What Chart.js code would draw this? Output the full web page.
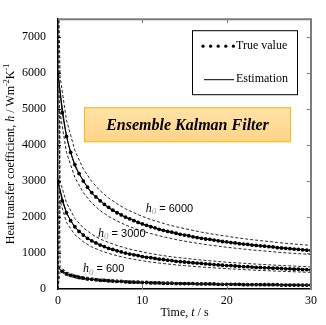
<!DOCTYPE html>
<html>
<head>
<meta charset="utf-8">
<script src="https://cdn.jsdelivr.net/npm/chart.js@4.4.1/dist/chart.umd.min.js"></script>
<style>
  html, body { margin: 0; padding: 0; background: #fff; }
  #wrap { width: 326px; height: 325px; }
</style>
</head>
<body>
<div id="wrap"><canvas id="c" width="326" height="325"></canvas></div>
<script>
// Sample times (s)
const trueTimes = [0, 0.5, 1, 1.5, 2, 2.5, 3, 3.5, 4, 4.5, 5, 5.5, 6, 6.5, 7, 7.5, 8, 8.5, 9, 9.5,
  10, 10.5, 11, 11.5, 12, 12.5, 13, 13.5, 14, 14.5, 15, 15.5, 16, 16.5, 17, 17.5, 18, 18.5, 19, 19.5,
  20, 20.5, 21, 21.5, 22, 22.5, 23, 23.5, 24, 24.5, 25, 25.5, 26, 26.5, 27, 27.5, 28, 28.5, 29, 29.5, 30];
const estTimes = [0, 1, 2, 3, 4, 5, 6, 7, 8, 9, 10, 11, 12, 13, 14, 15, 16, 17, 18, 19, 20,
  21, 22, 23, 24, 25, 26, 27, 28, 29, 30];
const boundTimes = [0, 0.25, 1, 2, 3, 4, 5, 6, 7, 8, 9, 10, 11, 12, 13, 14, 15, 16, 17, 18, 19, 20,
  21, 22, 23, 24, 25, 26, 27, 28, 29, 30];

// True heat transfer coefficient (W/m2K)
const true6000 = [6000, 4900, 4240, 3800, 3460, 3210, 3000, 2830, 2680, 2560, 2450, 2350, 2270, 2190, 2120, 2060, 2000, 1950, 1900, 1850,
  1810, 1770, 1730, 1700, 1660, 1630, 1600, 1580, 1550, 1520, 1500, 1480, 1450, 1430, 1410, 1390, 1380, 1360, 1340, 1320,
  1310, 1290, 1280, 1260, 1250, 1240, 1220, 1210, 1200, 1190, 1180, 1170, 1150, 1140, 1130, 1120, 1110, 1100, 1090, 1080, 1070];
const true3000 = [3000, 2450, 2120, 1900, 1730, 1600, 1500, 1410, 1340, 1280, 1220, 1180, 1130, 1100, 1060, 1030, 1000, 970, 950, 930,
  900, 880, 870, 850, 830, 820, 800, 790, 770, 760, 750, 740, 730, 720, 710, 700, 690, 680, 670, 660,
  650, 650, 640, 630, 620, 620, 610, 600, 600, 590, 590, 580, 580, 570, 560, 560, 550, 550, 540, 540, 530];
const true600 = [600, 490, 420, 380, 350, 320, 300, 280, 270, 260, 240, 240, 230, 220, 210, 210, 200, 190, 190, 190,
  180, 180, 170, 170, 170, 160, 160, 160, 150, 150, 150, 150, 150, 140, 140, 140, 140, 140, 130, 130,
  130, 130, 130, 130, 120, 120, 120, 120, 120, 120, 120, 120, 120, 110, 110, 110, 110, 110, 110, 110, 110];

// Ensemble mean estimates
const est6000 = [5950, 4280, 3430, 3020, 2660, 2470, 2250, 2130, 1990, 1910, 1800, 1740, 1650, 1610, 1540, 1510, 1450, 1420, 1370, 1350,
  1300, 1285, 1245, 1230, 1195, 1180, 1150, 1138, 1110, 1098, 1065];
const est3000 = [2980, 2140, 1720, 1510, 1330, 1230, 1120, 1070, 990, 960, 900, 875, 820, 805, 770, 755, 720, 712, 685, 675,
  650, 645, 622, 618, 598, 592, 578, 572, 555, 552, 532];
const est600 = [590, 425, 345, 305, 265, 245, 225, 215, 200, 192, 182, 175, 166, 160, 153, 148, 144, 140, 137, 134,
  131, 128, 125, 123, 121, 119, 117, 115, 113, 111, 110];

// Ensemble spread (upper / lower envelopes)
const upper6000 = [9000, 5900, 4700, 3850, 3340, 2990, 2730, 2530, 2370, 2230, 2120, 2020, 1930, 1860, 1790, 1730, 1680, 1630, 1580, 1540, 1500,
  1470, 1430, 1400, 1370, 1345, 1320, 1295, 1270, 1250, 1230, 1210];
const lower6000 = [0, 4900, 3800, 3100, 2680, 2390, 2180, 2020, 1890, 1780, 1690, 1610, 1540, 1480, 1425, 1375, 1330, 1290, 1255, 1220, 1190,
  1160, 1135, 1110, 1085, 1065, 1045, 1025, 1005, 990, 975, 960];
const upper3000 = [9000, 3000, 2400, 1960, 1700, 1520, 1390, 1290, 1210, 1140, 1080, 1030, 985, 945, 910, 880, 855, 830, 805, 785, 765,
  745, 730, 715, 700, 685, 672, 660, 648, 637, 626, 615];
const lower3000 = [0, 2450, 1850, 1510, 1310, 1170, 1070, 990, 925, 870, 825, 785, 750, 720, 695, 670, 650, 630, 610, 595, 580,
  565, 552, 540, 528, 517, 507, 497, 488, 479, 470, 462];
const upper600 = [9000, 620, 470, 390, 340, 305, 280, 260, 243, 230, 218, 208, 199, 191, 184, 178, 172, 167, 162, 158, 154,
  150, 147, 144, 141, 138, 135, 133, 131, 129, 127, 125];
const lower600 = [0, 500, 380, 310, 265, 237, 216, 200, 187, 176, 167, 159, 152, 146, 141, 136, 132, 128, 124, 121, 118,
  115, 112, 110, 108, 106, 104, 102, 100, 98, 96, 95];

// Curve labels: [h0 value text, anchor time, anchor h]
const curveLabels = [
  ['6000', 10.4, 2230],
  ['3000', 4.75, 1540],
  ['600', 2.95, 550]
];

const yTicks = [0, 1000, 2000, 3000, 4000, 5000, 6000, 7000];
const xTicks = [0, 10, 20, 30];

const SERIF = '"Liberation Serif", "Times New Roman", serif';
const SANS = '"Liberation Sans", Arial, sans-serif';

const pts = (xs, ys) => xs.map((x, i) => ({ x: x, y: ys[i] }));

function boundSet(xs, ys) {
  return { data: pts(xs, ys), borderColor: '#262626', borderWidth: 1, borderDash: [3, 2],
    pointRadius: 0, fill: false, tension: 0 };
}
function estSet(xs, ys) {
  return { data: pts(xs, ys), borderColor: '#000', borderWidth: 1, pointRadius: 0, fill: false, tension: 0.3 };
}
function trueSet(xs, ys) {
  return { data: pts(xs, ys), borderColor: '#000', borderWidth: 1, pointRadius: 1.9,
    pointBackgroundColor: '#000', pointBorderWidth: 0, fill: false, tension: 0 };
}

// Text helper: draw a run of styled pieces starting at x
function drawRuns(ctx, runs, x, y) {
  let cx = x;
  runs.forEach(r => {
    ctx.font = r.font;
    ctx.fillStyle = r.color || '#000';
    ctx.fillText(r.text, cx, y + (r.dy || 0));
    cx += ctx.measureText(r.text).width;
  });
  return cx - x;
}
function runsWidth(ctx, runs) {
  let w = 0;
  runs.forEach(r => { ctx.font = r.font; w += ctx.measureText(r.text).width; });
  return w;
}

const decorations = {
  id: 'decorations',
  afterDraw(chart) {
    const ctx = chart.ctx;
    const a = chart.chartArea;
    const xs = chart.scales.x, ys = chart.scales.y;
    ctx.save();

    // top and right frame
    ctx.strokeStyle = '#7c7c7c';
    ctx.lineWidth = 2;
    ctx.beginPath();
    ctx.moveTo(a.left, a.top); ctx.lineTo(a.right, a.top); ctx.lineTo(a.right, a.bottom);
    ctx.stroke();

    // inward tick marks
    ctx.lineWidth = 1;
    yTicks.forEach(v => {
      const py = Math.round(ys.getPixelForValue(v)) + 0.5;
      if (v === 0) return;
      ctx.strokeStyle = '#000';
      ctx.beginPath(); ctx.moveTo(a.left, py); ctx.lineTo(a.left + 3, py); ctx.stroke();
      ctx.strokeStyle = '#7c7c7c';
      ctx.beginPath(); ctx.moveTo(a.right, py); ctx.lineTo(a.right - 4, py); ctx.stroke();
    });
    xTicks.forEach(v => {
      if (v === 0 || v === 30) return;
      const px = Math.round(xs.getPixelForValue(v)) + 0.5;
      ctx.strokeStyle = '#7c7c7c';
      ctx.beginPath(); ctx.moveTo(px, a.top); ctx.lineTo(px, a.top + 4); ctx.stroke();
      ctx.beginPath(); ctx.moveTo(px, a.bottom); ctx.lineTo(px, a.bottom - 4); ctx.stroke();
    });

    // axis titles
    ctx.textBaseline = 'middle';
    const f12 = '12px ' + SERIF, f12i = 'italic 12px ' + SERIF, f8 = '8px ' + SERIF;
    const xRuns = [{ text: 'Time, ', font: f12 }, { text: 't', font: f12i }, { text: ' / s', font: f12 }];
    const xw = runsWidth(ctx, xRuns);
    drawRuns(ctx, xRuns, (a.left + a.right) / 2 - xw / 2, 313);

    const yRuns = [
      { text: 'Heat transfer coefficient, ', font: f12 },
      { text: 'h', font: f12i },
      { text: ' / Wm', font: f12 },
      { text: '-2', font: f8, dy: -4 },
      { text: 'K', font: f12 },
      { text: '-1', font: f8, dy: -4 }
    ];
    const yw = runsWidth(ctx, yRuns);
    ctx.save();
    ctx.translate(11, 154);
    ctx.rotate(-Math.PI / 2);
    drawRuns(ctx, yRuns, -yw / 2, 0);
    ctx.restore();

    // curve labels
    curveLabels.forEach(l => {
      const px = xs.getPixelForValue(l[1]);
      const py = ys.getPixelForValue(l[2]);
      drawRuns(ctx, [
        { text: 'h', font: 'italic 12px ' + SERIF },
        { text: '0', font: 'italic 9px ' + SERIF, color: '#9a9a9a', dy: 3 },
        { text: ' = ' + l[0], font: '11px ' + SANS }
      ], px, py);
    });

    // method title box
    const bx = a.left + 26, by = a.top + 88, bw = 207, bh = 35;
    const g = ctx.createLinearGradient(0, by, 0, by + bh);
    g.addColorStop(0, '#ffe3a8');
    g.addColorStop(1, '#ffd488');
    ctx.fillStyle = g;
    ctx.fillRect(bx, by, bw, bh);
    ctx.strokeStyle = '#f2be10';
    ctx.lineWidth = 1;
    ctx.strokeRect(bx + 0.5, by + 0.5, bw - 1, bh - 1);
    ctx.fillStyle = '#000';
    ctx.font = 'italic bold 16px ' + SERIF;
    ctx.textAlign = 'center';
    ctx.fillText('Ensemble Kalman Filter', bx + bw / 2, by + bh / 2 + 1);
    ctx.textAlign = 'left';

    // legend
    const lx = a.left + 134, ly = a.top + 11, lw = 106, lh = 65;
    ctx.fillStyle = '#fff';
    ctx.fillRect(lx, ly, lw, lh);
    ctx.strokeStyle = '#000';
    ctx.strokeRect(lx + 0.5, ly + 0.5, lw - 1, lh - 1);
    const r1 = ly + 16, r2 = ly + 49;
    ctx.fillStyle = '#000';
    for (let i = 0; i < 5; i++) {
      ctx.beginPath();
      ctx.arc(lx + 11 + i * 7.6, r1, 1.6, 0, Math.PI * 2);
      ctx.fill();
    }
    ctx.beginPath();
    ctx.moveTo(lx + 12, r2 + 0.5); ctx.lineTo(lx + 42, r2 + 0.5);
    ctx.lineWidth = 1; ctx.strokeStyle = '#000'; ctx.stroke();
    ctx.font = '12px ' + SERIF;
    ctx.fillText('True value', lx + 44, r1);
    ctx.fillText('Estimation', lx + 44, r2);

    ctx.restore();
  }
};

new Chart(document.getElementById('c'), {
  type: 'line',
  data: {
    datasets: [
      boundSet(boundTimes, upper6000), boundSet(boundTimes, lower6000),
      boundSet(boundTimes, upper3000), boundSet(boundTimes, lower3000),
      boundSet(boundTimes, upper600), boundSet(boundTimes, lower600),
      estSet(estTimes, est6000), estSet(estTimes, est3000), estSet(estTimes, est600),
      trueSet(trueTimes, true6000), trueSet(trueTimes, true3000), trueSet(trueTimes, true600)
    ]
  },
  options: {
    responsive: false,
    animation: false,
    devicePixelRatio: 1,
    layout: { padding: { left: 0, right: 15, top: 16, bottom: 0 } },
    plugins: { legend: { display: false }, tooltip: { enabled: false }, title: { display: false } },
    scales: {
      x: {
        type: 'linear', min: 0, max: 30,
        afterBuildTicks(s) { s.ticks = xTicks.map(v => ({ value: v })); },
        ticks: { font: { family: SERIF, size: 12 }, color: '#000', padding: 5, maxRotation: 0, autoSkip: false,
          callback: v => String(v) },
        grid: { display: false, drawTicks: false },
        border: { display: true, color: '#000', width: 1.5 },
        afterFit(s) { s.height = 36; }
      },
      y: {
        min: 0, max: 7500,
        afterBuildTicks(s) { s.ticks = yTicks.map(v => ({ value: v })); },
        ticks: { font: { family: SERIF, size: 12 }, color: '#000', padding: 12, autoSkip: false,
          callback: v => String(v) },
        grid: { display: false, drawTicks: false },
        border: { display: true, color: '#000', width: 1.5 },
        afterFit(s) { s.width = 58; }
      }
    }
  },
  plugins: [decorations]
});
</script>
</body>
</html>
